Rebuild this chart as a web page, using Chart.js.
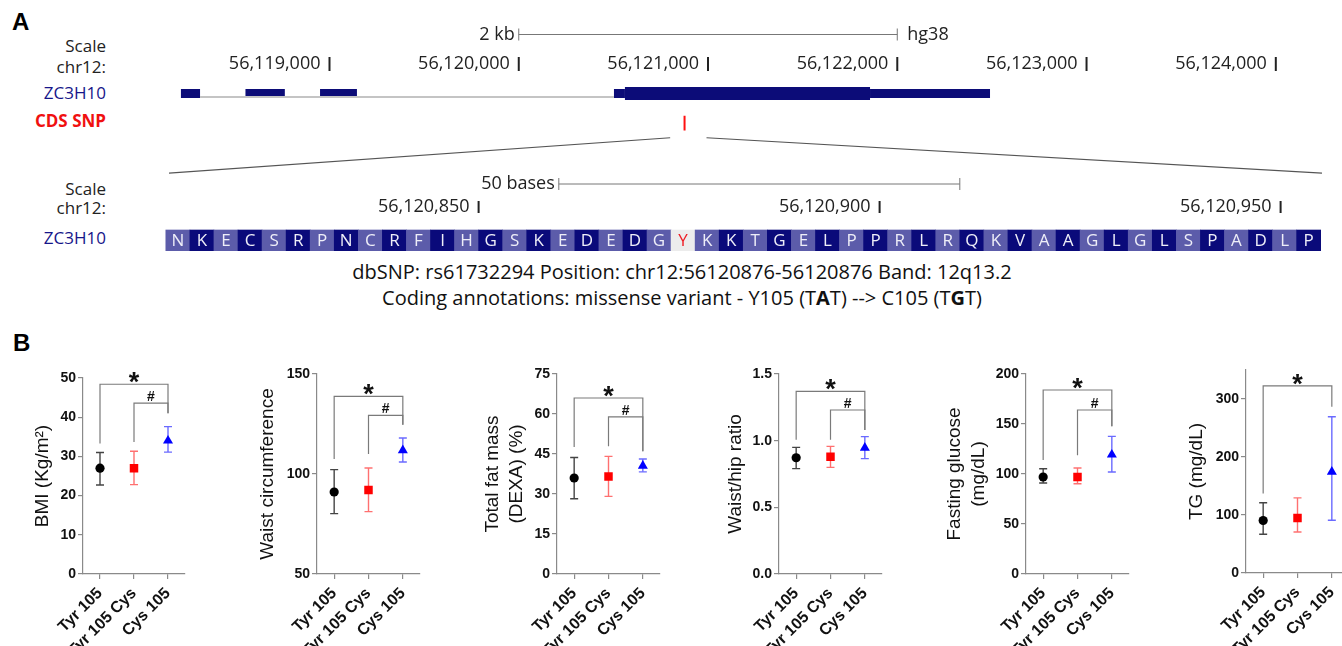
<!DOCTYPE html>
<html>
<head>
<meta charset="utf-8">
<title>ZC3H10 Y105C variant</title>
<script src="https://cdn.jsdelivr.net/npm/chart.js@4.4.1/dist/chart.umd.min.js"></script>
<style>
  body { margin: 0; background: #fff; }
  #fig { position: relative; width: 1342px; height: 646px; overflow: hidden; }
  canvas, .txt { position: absolute; }
  .panel { font: bold 24px "Liberation Sans", Arial, sans-serif; color: #000; }
  .row { font: 17px "Open Sans", sans-serif; line-height: 20px; left: 0; width: 106px; text-align: right; color: #222; }
  .gene { color: #16168a; }
  .snp { color: #f01010; font-weight: bold; }
  .note { font: 20px "Open Sans", sans-serif; line-height: 24px; left: 0; width: 1364px; text-align: center; color: #111; }
</style>
</head>
<body>
<div id="fig">
  <div class="txt panel" style="left:12px;top:8px">A</div>
  <div class="txt row" style="top:36px">Scale</div>
  <div class="txt row" style="top:57px">chr12:</div>
  <div class="txt row gene" style="top:83px">ZC3H10</div>
  <div class="txt row snp" style="top:111px">CDS SNP</div>
  <div class="txt row" style="top:179px">Scale</div>
  <div class="txt row" style="top:198px">chr12:</div>
  <div class="txt row gene" style="top:228px">ZC3H10</div>
  <div class="txt note" style="top:260px">dbSNP: rs61732294 Position: chr12:56120876-56120876 Band: 12q13.2</div>
  <div class="txt note" style="top:286px">Coding annotations: missense variant - Y105 (T<b>A</b>T) --&gt; C105 (T<b>G</b>T)</div>
  <div class="txt panel" style="left:13px;top:329px">B</div>
</div>
<script>
// ---- panel A: genome track (hg38) ----
const rulerTop = [56119000, 56120000, 56121000, 56122000, 56123000, 56124000];
const scaleBarTop = [56120000, 56122000];
const utrBlocks = [[56118215, 56118316], [56118556, 56118764], [56118950, 56119145], [56120503, 56120561], [56121856, 56122490]];
const cdsBlocks = [[56120561, 56121856]];
const intron = [56118316, 56120503];
const snpPos = 56120876;
const zoomWindow = [56120800, 56120992];
const funnelBase = [56118152, 56124244];

// ---- panel A: sequence zoom ----
const rulerSeq = [56120850, 56120900, 56120950];
const scaleBarSeq = [56120860, 56120910];
const seqStart = 56120811;
const residues = 'NKECSRPNCRFIHGSKEDEDGYKKTGELPPRLRQKVAAGLGLSPADLP';
const variantIndex = 21;

// ---- panel B: genotype groups ----
const groups = ['Tyr 105', 'Tyr 105 Cys', 'Cys 105'];

const bmiMean = [27, 27, 34];
const bmiLow = [22.7, 22.8, 31.1];
const bmiHigh = [31, 31.3, 37.6];
const bmiStar = [33.3, 48.4, 41];
const bmiHash = [33.7, 43.6, 41];

const waistMean = [91, 92, 111.8];
const waistLow = [80.2, 81.2, 106];
const waistHigh = [102.2, 103, 118];
const waistStar = [107.5, 138.8, 124.6];
const waistHash = [110, 129.3, 124.6];

const fatMean = [36, 36.6, 40.6];
const fatLow = [28.2, 29.1, 38.3];
const fatHigh = [43.7, 44.1, 43.1];
const fatStar = [47.6, 66, 46];
const fatHash = [47.9, 58.9, 46];

const whrMean = [0.872, 0.88, 0.947];
const whrLow = [0.79, 0.8, 0.865];
const whrHigh = [0.95, 0.957, 1.03];
const whrStar = [1.007, 1.37, 1.08];
const whrHash = [1.007, 1.23, 1.08];

const glucMean = [97, 97, 119.3];
const glucLow = [91, 90.3, 102];
const glucHigh = [105.3, 106, 137.6];
const glucStar = [114, 184, 147.7];
const glucHash = [118.7, 164, 147.7];

const tgMean = [90.5, 95, 174.4];
const tgLow = [66.8, 70.8, 91];
const tgHigh = [121, 129.5, 269.4];
const tgStar = [137, 322.5, 286.7];

const NAVY = '#0c0c78';
const FONT = '"Liberation Sans", Arial, sans-serif';
const fig = document.getElementById('fig');

Chart.defaults.font.family = FONT;
Chart.defaults.color = '#111';

const commas = v => String(v).replace(/\B(?=(\d{3})+(?!\d))/g, ',');

function addCanvas(left, top, width, height) {
  const c = document.createElement('canvas');
  c.width = width;
  c.height = height;
  c.style.left = left + 'px';
  c.style.top = top + 'px';
  c.style.width = width + 'px';
  c.style.height = height + 'px';
  fig.appendChild(c);
  return c;
}

// ruler numbers and scale-bar captions for the browser tracks
const trackText = {
  id: 'trackText',
  afterDatasetsDraw(chart, args, o) {
    if (!o.ruler) return;
    const { ctx, scales: { x, y } } = chart;
    ctx.save();
    ctx.font = '18px "Open Sans", sans-serif';
    ctx.fillStyle = '#222';
    ctx.textBaseline = 'middle';
    ctx.textAlign = 'right';
    const ry = y.getPixelForValue(o.rulerRow);
    o.ruler.forEach(v => ctx.fillText(commas(v), x.getPixelForValue(v) - 9, ry));
    const by = y.getPixelForValue(o.barRow);
    ctx.fillText(o.barLabel, x.getPixelForValue(o.bar[0]) - 4, by);
    if (o.barEnd) {
      ctx.textAlign = 'left';
      ctx.fillText(o.barEnd, x.getPixelForValue(o.bar[1]) + 10, by);
    }
    ctx.restore();
  }
};

// amino acid letters inside the codon boxes
const residueLetters = {
  id: 'residueLetters',
  afterDatasetsDraw(chart, args, o) {
    if (!o.letters) return;
    const ctx = chart.ctx;
    ctx.save();
    ctx.font = '17px "Open Sans", sans-serif';
    ctx.textAlign = 'center';
    ctx.textBaseline = 'middle';
    chart.getDatasetMeta(0).data.forEach((bar, i) => {
      ctx.fillStyle = i === o.variant ? '#ee1c24' : '#eeeef8';
      ctx.fillText(o.letters[i], bar.x, (bar.y + bar.base) / 2 + 1);
    });
    ctx.restore();
  }
};

// * and # above the comparison brackets
const sigMarks = {
  id: 'sigMarks',
  afterDatasetsDraw(chart, args, o) {
    if (!o.marks) return;
    const { ctx, scales: { x, y } } = chart;
    ctx.save();
    ctx.fillStyle = '#111';
    ctx.textAlign = 'center';
    ctx.textBaseline = 'alphabetic';
    o.marks.forEach(m => {
      const cx = (x.getPixelForValue(m.from) + x.getPixelForValue(2)) / 2;
      const cy = y.getPixelForValue(m.level);
      if (m.text === '*') {
        ctx.font = 'bold 27px ' + FONT;
        ctx.fillText('*', cx, cy + 7);
      } else {
        ctx.font = 'bold 14px ' + FONT;
        ctx.fillText(m.text, cx, cy - 2);
      }
    });
    ctx.restore();
  }
};

Chart.register(trackText, residueLetters, sigMarks);

const hidden = { display: false };

// ---- top browser track ----
const seg = (a, b, row, width, color) => ({
  data: [{ x: a, y: row }, { x: b, y: row }],
  showLine: true, borderColor: color, borderWidth: width, borderCapStyle: 'butt', pointRadius: 0
});

const topPxPerBase = 0.18926;
const topMin = rulerTop[0] - 329.5 / topPxPerBase;
new Chart(addCanvas(0, 5, 1342, 177), {
  type: 'scatter',
  data: {
    datasets: [
      seg(intron[0], intron[1], 2.12, 2, '#c4c4c4'),
      ...utrBlocks.map(b => seg(b[0], b[1], 2, 9, NAVY)),
      ...cdsBlocks.map(b => seg(b[0], b[1], 2, 13, NAVY)),
      { data: [{ x: snpPos, y: 2.75 }, { x: snpPos, y: 3.25 }], showLine: true, borderColor: '#ff1010', borderWidth: 2, pointRadius: 0 },
      { data: rulerTop.map(v => ({ x: v, y: 1 })), pointStyle: 'line', rotation: 90, pointRadius: 7, pointBorderWidth: 2, pointBorderColor: '#222' },
      { data: scaleBarTop.map(v => ({ x: v, y: 0 })), showLine: true, borderColor: '#777', borderWidth: 1, pointStyle: 'line', rotation: 90, pointRadius: 6, pointBorderWidth: 1, pointBorderColor: '#777' },
      { data: [{ x: zoomWindow[0], y: 3.5 }, { x: funnelBase[0], y: 4.7 }], showLine: true, borderColor: '#555', borderWidth: 1.2, pointRadius: 0 },
      { data: [{ x: zoomWindow[1], y: 3.5 }, { x: funnelBase[1], y: 4.7 }], showLine: true, borderColor: '#555', borderWidth: 1.2, pointRadius: 0 }
    ]
  },
  options: {
    responsive: false, animation: false,
    layout: { padding: 0, autoPadding: false },
    plugins: {
      legend: hidden, tooltip: { enabled: false },
      trackText: { ruler: rulerTop, rulerRow: 1, bar: scaleBarTop, barRow: 0, barLabel: '2 kb', barEnd: 'hg38' }
    },
    scales: {
      x: { type: 'linear', display: false, min: topMin, max: topMin + 1342 / topPxPerBase },
      y: { type: 'linear', display: false, min: -1, max: 5, reverse: true }
    }
  }
});

// ---- sequence zoom track ----
const seqPxPerBase = 8.02;
const seqMin = rulerSeq[0] - 478.6 / seqPxPerBase;
const codonColors = residues.split('').map((r, i) => i === variantIndex ? '#ececec' : (i % 2 ? '#0a0a7a' : '#5c5caa'));
new Chart(addCanvas(0, 161, 1342, 115), {
  type: 'bar',
  data: {
    datasets: [
      {
        data: residues.split('').map((r, i) => ({ x: seqStart + 3 * i + 1.5, y: [2, 2.9] })),
        backgroundColor: codonColors, borderWidth: 0, barPercentage: 1, categoryPercentage: 1
      },
      { type: 'line', data: rulerSeq.map(v => ({ x: v, y: 1 })), showLine: false, pointStyle: 'line', rotation: 90, pointRadius: 6, pointBorderWidth: 2, pointBorderColor: '#222' },
      { type: 'line', data: scaleBarSeq.map(v => ({ x: v, y: 0 })), borderColor: '#777', borderWidth: 1, pointStyle: 'line', rotation: 90, pointRadius: 6, pointBorderWidth: 1, pointBorderColor: '#777' }
    ]
  },
  options: {
    responsive: false, animation: false,
    layout: { padding: 0, autoPadding: false },
    plugins: {
      legend: hidden, tooltip: { enabled: false },
      trackText: { ruler: rulerSeq, rulerRow: 1, bar: scaleBarSeq, barRow: 0, barLabel: '50 bases' },
      residueLetters: { letters: residues, variant: variantIndex }
    },
    scales: {
      x: { type: 'linear', display: false, offset: false, min: seqMin, max: seqMin + 1342 / seqPxPerBase },
      y: { type: 'linear', display: false, min: -1, max: 4, reverse: true }
    }
  }
});

// ---- panel B: one small chart per trait ----
const markerColors = ['#000000', '#ff0000', '#0000ff'];
const errorColors = ['#444444', '#ff7070', '#6a6aff'];
const AXIS = '#8a8a8a';

function groupChart(p) {
  const padTop = 32, axisH = 86, padRight = 8;
  const left = Math.round(p.titleX - 12);
  const yW = p.axisX - left;
  const canvas = addCanvas(left, p.top - padTop, yW + p.plotW + padRight, padTop + p.plotH + axisH);
  const brackets = p.brackets.map(b => ({
    data: [
      { x: groups[b.from], y: b.legs[0] }, { x: groups[b.from], y: b.legs[1] },
      { x: groups[2], y: b.legs[1] }, { x: groups[2], y: b.legs[2] }
    ],
    borderColor: '#7a7a7a', borderWidth: 1.2, pointRadius: 0
  }));
  const errors = groups.map((g, i) => ({
    data: [{ x: g, y: p.low[i] }, { x: g, y: p.high[i] }],
    borderColor: errorColors[i], borderWidth: 1.4,
    pointStyle: 'line', pointRadius: 4, pointBorderColor: errorColors[i], pointBorderWidth: 1.4
  }));
  new Chart(canvas, {
    type: 'line',
    data: {
      labels: groups,
      datasets: [
        {
          data: p.mean, showLine: false,
          pointStyle: ['circle', 'rect', 'triangle'], pointRadius: [4.6, 6, 5.8],
          pointBackgroundColor: markerColors, pointBorderColor: markerColors, pointBorderWidth: 0
        },
        ...errors,
        ...brackets
      ]
    },
    options: {
      responsive: false, animation: false,
      layout: { padding: { top: padTop, right: padRight, left: 0, bottom: 0 }, autoPadding: false },
      plugins: {
        legend: hidden, tooltip: { enabled: false },
        sigMarks: { marks: p.brackets.map(b => ({ text: b.text, from: b.from, level: b.legs[1] })) }
      },
      scales: {
        x: {
          type: 'category', offset: true,
          grid: { drawOnChartArea: false, tickLength: 5, color: AXIS, lineWidth: 1.2 },
          border: { color: AXIS, width: 1.2 },
          ticks: { minRotation: 45, maxRotation: 45, padding: 5, color: '#111', font: { size: 16, weight: 'bold' } },
          afterFit: s => { s.height = axisH; }
        },
        y: {
          min: p.min, max: p.max,
          grid: { drawOnChartArea: false, tickLength: 5, color: AXIS, lineWidth: 1.2 },
          border: { color: AXIS, width: 1.2 },
          ticks: {
            stepSize: p.step, includeBounds: false, padding: 2, color: '#111',
            font: { size: 14, weight: 'bold' },
            callback: v => p.fixed ? v.toFixed(p.fixed) : v
          },
          title: { display: true, text: p.title, color: '#111', padding: { top: 0, bottom: 0 }, font: { size: 19, lineHeight: '24px' } },
          afterFit: s => { s.width = yW; }
        }
      }
    }
  });
}

groupChart({ title: 'BMI (Kg/m²)', titleX: 42.5, axisX: 83, top: 378, plotH: 196, plotW: 102,
  min: 0, max: 50, step: 10, mean: bmiMean, low: bmiLow, high: bmiHigh,
  brackets: [{ text: '*', from: 0, legs: bmiStar }, { text: '#', from: 1, legs: bmiHash }] });

groupChart({ title: 'Waist circumference', titleX: 268.3, axisX: 317, top: 374, plotH: 200, plotW: 103,
  min: 50, max: 150, step: 50, mean: waistMean, low: waistLow, high: waistHigh,
  brackets: [{ text: '*', from: 0, legs: waistStar }, { text: '#', from: 1, legs: waistHash }] });

groupChart({ title: ['Total fat mass', '(DEXA) (%)'], titleX: 493.3, axisX: 557, top: 374, plotH: 200, plotW: 103,
  min: 0, max: 75, step: 15, mean: fatMean, low: fatLow, high: fatHigh,
  brackets: [{ text: '*', from: 0, legs: fatStar }, { text: '#', from: 1, legs: fatHash }] });

groupChart({ title: 'Waist/hip ratio', titleX: 736, axisX: 779, top: 374, plotH: 200, plotW: 103,
  min: 0, max: 1.5, step: 0.5, fixed: 1, mean: whrMean, low: whrLow, high: whrHigh,
  brackets: [{ text: '*', from: 0, legs: whrStar }, { text: '#', from: 1, legs: whrHash }] });

groupChart({ title: ['Fasting glucose', '(mg/dL)'], titleX: 955, axisX: 1026, top: 374, plotH: 200, plotW: 103,
  min: 0, max: 200, step: 50, mean: glucMean, low: glucLow, high: glucHigh,
  brackets: [{ text: '*', from: 0, legs: glucStar }, { text: '#', from: 1, legs: glucHash }] });

groupChart({ title: 'TG (mg/dL)', titleX: 1196.7, axisX: 1246, top: 370, plotH: 203, plotW: 103,
  min: 0, max: 350, step: 100, mean: tgMean, low: tgLow, high: tgHigh,
  brackets: [{ text: '*', from: 0, legs: tgStar }] });
</script>
</body>
</html>
